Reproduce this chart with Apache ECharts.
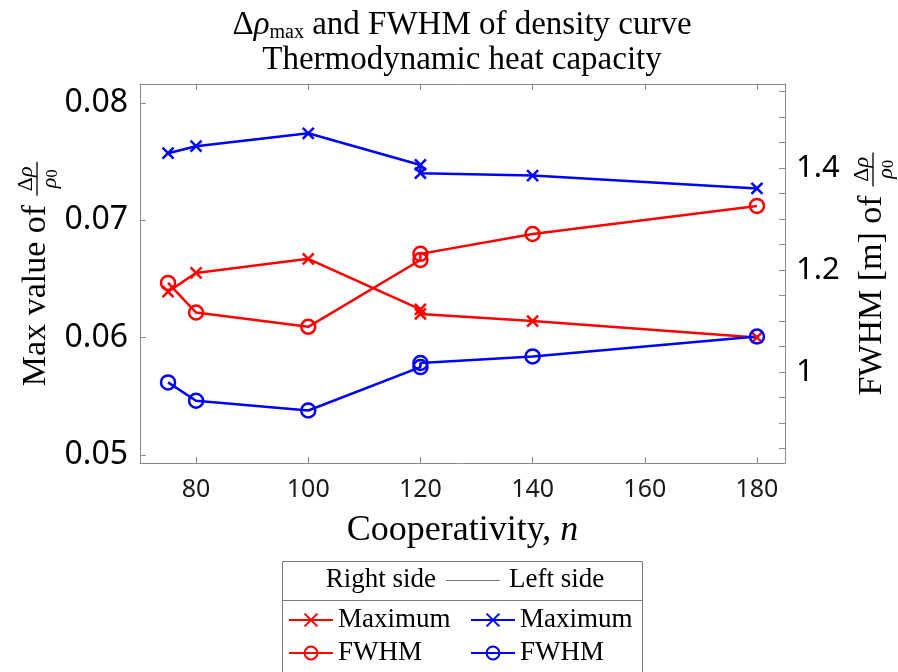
<!DOCTYPE html>
<html>
<head>
<meta charset="utf-8">
<script src="https://cdn.jsdelivr.net/npm/echarts@6/dist/echarts.min.js"></script>
<style>
html, body { margin: 0; padding: 0; background: #fff; }
#chart { width: 898px; height: 672px; }
</style>
</head>
<body>
<div id="chart"></div>
<script>
// Cooperativity n (120 was run twice)
const cooperativity = [75, 80, 100, 120, 120, 140, 180];
// Maximum of the density perturbation (left axis)
const rightMaximum = [0.0639, 0.0655, 0.0667, 0.0624, 0.0620, 0.0614, 0.0600];
const leftMaximum  = [0.0757, 0.0763, 0.0774, 0.0747, 0.0740, 0.0738, 0.0727];
// FWHM of the density perturbation in metres (right axis)
const rightFWHM = [1.175, 1.117, 1.089, 1.220, 1.232, 1.271, 1.326];
const leftFWHM  = [0.980, 0.944, 0.925, 1.010, 1.018, 1.031, 1.070];

const xTicks = [80, 100, 120, 140, 160, 180];
const maxTicks = [0.05, 0.06, 0.07, 0.08];
const fwhmLabels = [1, 1.2, 1.4];
const fwhmTicks = [0.85, 0.9, 0.95, 1, 1.05, 1.1, 1.15, 1.2, 1.25, 1.3, 1.35, 1.4, 1.45, 1.5, 1.55];

const RED = '#ff0000';
const BLUE = '#0000ff';
const AXIS_GREY = '#8a8a8a';
const SERIF = '"Liberation Serif", "Times New Roman", serif';
const SANS = '"Noto Sans", "DejaVu Sans", sans-serif';
const CROSS = 'path://M0,0L10,10M10,0L0,10';

function lineSeries(name, yAxisIndex, values, color, symbol, symbolSize) {
  return {
    name: name,
    type: 'line',
    xAxisIndex: 0,
    yAxisIndex: yAxisIndex,
    data: cooperativity.map((n, i) => [n, values[i]]),
    color: color,
    symbol: symbol,
    symbolSize: symbolSize,
    showAllSymbol: true,
    lineStyle: { color: color, width: 2.5 },
    itemStyle: { color: 'none', borderColor: color, borderWidth: 2.5 },
    emphasis: { disabled: true },
    animation: false
  };
}

const chart = echarts.init(document.getElementById('chart'), null, { renderer: 'canvas' });

function textWidth(text, font) {
  const c = document.createElement('canvas').getContext('2d');
  c.font = font;
  return c.measureText(text).width;
}

// Rotated axis title "<words> Δρ/ρ0" with a stacked fraction
function fractionLabel(words, cx, cy, fontSize) {
  const wordsW = textWidth(words, fontSize + 'px "Liberation Serif"');
  const fracW = 34;
  const gap = 9;
  const total = wordsW + gap + fracW;
  const x0 = -total / 2;
  const fracX = x0 + wordsW + gap + fracW / 2;
  const small = { fontFamily: SERIF, fontSize: 22, fill: '#000' };
  return {
    type: 'group',
    x: cx, y: cy,
    rotation: Math.PI / 2,
    children: [
      { type: 'text', x: x0, y: 0,
        style: { text: words, fontFamily: SERIF, fontSize: fontSize, fill: '#000',
                 textAlign: 'left', textVerticalAlign: 'middle' } },
      { type: 'text', x: fracX, y: -10,
        style: { text: '{n|Δ}{i|ρ}', textAlign: 'center', textVerticalAlign: 'middle',
                 rich: { n: small, i: Object.assign({ fontStyle: 'italic' }, small) } } },
      { type: 'line', shape: { x1: fracX - 17, y1: 1, x2: fracX + 17, y2: 1 },
        style: { stroke: '#000', lineWidth: 1.3 } },
      { type: 'text', x: fracX, y: 14,
        style: { text: '{i|ρ}{s|0}', textAlign: 'center', textVerticalAlign: 'middle',
                 rich: { i: Object.assign({ fontStyle: 'italic' }, small),
                         s: { fontFamily: SERIF, fontSize: 16, fill: '#000', verticalAlign: 'bottom' } } } }
    ]
  };
}

const legendText = { fontFamily: SERIF, fontSize: 27, lineHeight: 30, color: '#000' };

const option = {
  backgroundColor: '#fff',
  animation: false,
  title: {
    // centred over the plot area (grid spans x = 140 … 785)
    left: 462,
    textAlign: 'center',
    top: 3,
    padding: [5, 0, 5, 0],
    text: '{a|Δ}{g|ρ}{s|max}{a| and FWHM of density curve}\n{a|Thermodynamic heat capacity}',
    textStyle: {
      fontWeight: 'normal',
      rich: {
        a: { fontFamily: SERIF, fontSize: 33, lineHeight: 35, color: '#000', fontWeight: 'normal' },
        g: { fontFamily: SERIF, fontSize: 33, lineHeight: 35, color: '#000', fontWeight: 'normal', fontStyle: 'italic' },
        s: { fontFamily: SERIF, fontSize: 20, lineHeight: 20, color: '#000', fontWeight: 'normal', verticalAlign: 'bottom' }
      }
    }
  },
  grid: { left: 140, right: 113, top: 84, bottom: 209, containLabel: false, outerBoundsMode: 'none' },
  xAxis: [
    {
      type: 'value', position: 'bottom', min: 70, max: 185,
      name: '{a|Cooperativity, }{i|n}', nameLocation: 'middle', nameGap: 50,
      nameTextStyle: {
        rich: {
          a: { fontFamily: SERIF, fontSize: 36, color: '#000' },
          i: { fontFamily: SERIF, fontSize: 36, color: '#000', fontStyle: 'italic' }
        }
      },
      axisLine: { show: true, lineStyle: { color: AXIS_GREY, width: 1 } },
      axisTick: { show: true, inside: true, length: 6, customValues: xTicks, lineStyle: { color: AXIS_GREY } },
      axisLabel: { customValues: xTicks, fontFamily: SANS, fontSize: 25, color: '#1a1a1a', margin: 14 },
      splitLine: { show: false }
    },
    {
      type: 'value', position: 'top', min: 70, max: 185,
      axisLine: { show: true, lineStyle: { color: AXIS_GREY, width: 1 } },
      axisTick: { show: true, inside: true, length: 6, customValues: xTicks, lineStyle: { color: AXIS_GREY } },
      axisLabel: { show: false },
      splitLine: { show: false }
    }
  ],
  yAxis: [
    {
      type: 'value', position: 'left', min: 0.0493, max: 0.0816,
      axisLine: { show: true, lineStyle: { color: AXIS_GREY, width: 1 } },
      axisTick: { show: true, inside: true, length: 6, customValues: maxTicks, lineStyle: { color: AXIS_GREY } },
      axisLabel: { customValues: maxTicks, formatter: v => v.toFixed(2),
                   fontFamily: SANS, fontSize: 32, color: '#000', margin: 12 },
      splitLine: { show: false }
    },
    {
      type: 'value', position: 'right', min: 0.822, max: 1.565,
      axisLine: { show: true, lineStyle: { color: AXIS_GREY, width: 1 } },
      axisTick: { show: true, inside: true, length: 6, customValues: fwhmTicks, lineStyle: { color: AXIS_GREY } },
      axisLabel: { customValues: fwhmLabels, formatter: v => String(Math.round(v * 10) / 10),
                   fontFamily: SANS, fontSize: 31, color: '#000', margin: 11 },
      splitLine: { show: false }
    }
  ],
  legend: [
    {
      orient: 'vertical', left: 288, top: 605, padding: 0,
      itemWidth: 44, itemHeight: 16, itemGap: 3,
      selectedMode: false,
      data: ['Right Maximum', 'Right FWHM'],
      formatter: name => name.split(' ')[1],
      textStyle: legendText
    },
    {
      orient: 'vertical', left: 470, top: 605, padding: 0,
      itemWidth: 44, itemHeight: 16, itemGap: 3,
      selectedMode: false,
      data: ['Left Maximum', 'Left FWHM'],
      formatter: name => name.split(' ')[1],
      textStyle: legendText
    }
  ],
  graphic: [
    fractionLabel('Max value of', 36, 274, 34),
    fractionLabel('FWHM [m] of', 872, 274, 34),
    { type: 'rect', shape: { x: 282.5, y: 561.5, width: 360, height: 140 },
      style: { fill: 'none', stroke: '#7a7a7a', lineWidth: 1 }, z: 0 },
    { type: 'line', shape: { x1: 282.5, y1: 600.5, x2: 642.5, y2: 600.5 },
      style: { stroke: '#7a7a7a', lineWidth: 1 } },
    { type: 'text', x: 436, y: 580,
      style: { text: 'Right side', fontFamily: SERIF, fontSize: 27, fill: '#000',
               textAlign: 'right', textVerticalAlign: 'middle' } },
    { type: 'line', shape: { x1: 446, y1: 580.5, x2: 500, y2: 580.5 },
      style: { stroke: '#7a7a7a', lineWidth: 1 } },
    { type: 'text', x: 509, y: 580,
      style: { text: 'Left side', fontFamily: SERIF, fontSize: 27, fill: '#000',
               textAlign: 'left', textVerticalAlign: 'middle' } }
  ],
  series: [
    lineSeries('Right Maximum', 0, rightMaximum, RED, CROSS, 11),
    lineSeries('Right FWHM', 1, rightFWHM, RED, 'circle', 14),
    lineSeries('Left Maximum', 0, leftMaximum, BLUE, CROSS, 11),
    lineSeries('Left FWHM', 1, leftFWHM, BLUE, 'circle', 14)
  ]
};

chart.setOption(option);
</script>
</body>
</html>
